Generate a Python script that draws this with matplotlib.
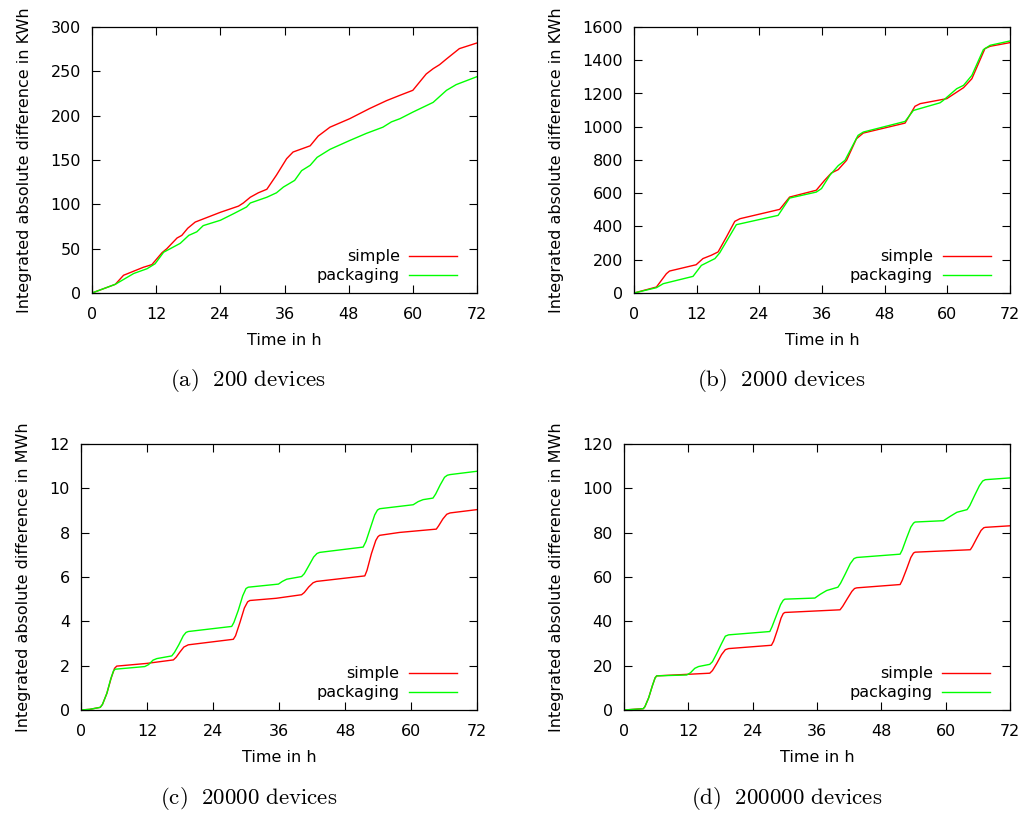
import matplotlib
matplotlib.use('Agg')
import matplotlib.pyplot as plt

plt.rcParams['font.family'] = ['DejaVu Sans']
plt.rcParams['mathtext.fontset'] = 'cm'

# (a) 200 devices, KWh
a_simple_t = [0, 4.36, 5.9, 9.6, 11.2, 13.1, 14, 15.9, 16.8, 17.9, 19.3, 24, 27.4, 28.3, 29.6,
              31.1, 32.7, 34.5, 36.4, 37.6, 40.8, 42.3, 44.5, 48.2, 51.9, 55.1, 57.6, 60,
              62.5, 63.8, 65, 66.3, 68.7, 72]
a_simple_v = [0, 9.8, 20, 29, 32, 45.5, 50, 62, 65, 73, 80, 91, 98, 101.5, 108,
              113, 117, 133, 151.5, 159, 166, 177, 187, 196.6, 208, 217, 223, 228.6,
              247, 253, 257.5, 264, 275.6, 282]
a_pack_t = [0, 4.36, 7.8, 10.3, 11.8, 13.4, 16.5, 18.1, 19.6, 20.8, 24, 26.5, 28.9, 29.6,
            32.7, 34.5, 35.8, 37.9, 39.2, 40.8, 42.1, 44.5, 48.2, 51.3, 54.4, 56, 57.6,
            60, 63.8, 66.3, 68.1, 72]
a_pack_v = [0, 9.8, 22, 27.4, 33, 46, 56, 65, 69, 76, 82, 89.5, 97, 101.5,
            108, 113, 119.5, 127, 138, 144, 153, 162, 172, 180, 187, 193, 196.6,
            204, 215, 228.6, 235, 244]

# (b) 2000 devices, KWh
b_simple_t = [0, 4.3, 6.2, 6.8, 11.9, 13.2, 14.8, 16.1, 17.7, 19.3, 20.3, 27.9, 29.8, 34.9,
              36.5, 37.8, 39.1, 40.7, 42.6, 43.9, 51.9, 53.8, 54.8, 59.9, 63.1, 64.7,
              67.2, 68.2, 72]
b_simple_v = [0, 36, 116, 132, 170, 207, 227, 247, 337, 431, 447, 503, 577, 618,
              678, 722, 742, 798, 928, 962, 1022, 1123, 1139, 1169, 1235, 1289,
              1470, 1484, 1506]
b_pack_t = [0, 4.3, 5.6, 11.3, 12.9, 15.5, 16.4, 19.6, 27.6, 29.8, 34.9, 35.9, 37.5, 39.1,
            40.4, 42.9, 43.9, 51.9, 53.5, 58.6, 59.2, 61.8, 63.1, 64.7, 66.9, 68.2, 72]
b_pack_v = [0, 32, 56, 100, 166, 207, 241, 411, 467, 571, 607, 628, 708, 766,
            798, 948, 968, 1032, 1098, 1144, 1158, 1229, 1249, 1309, 1464, 1490, 1516]

# (c) 20000 devices, MWh
c_simple_t = [0, 1.6, 3.5, 3.9, 4.7, 5.5, 6.1, 6.5, 11.9, 16.8, 17.3, 18.0, 18.7, 19.5,
              27.7, 28.1, 28.9, 29.7, 30.3, 30.7, 35.5, 40.1, 40.6, 41.4, 42.2, 42.8,
              51.6, 52.0, 52.8, 53.6, 54.0, 54.3, 57.9, 64.6, 65.0, 65.8, 66.5, 67.1, 72]
c_simple_v = [0, 0.03, 0.12, 0.25, 0.75, 1.45, 1.88, 1.98, 2.1, 2.26, 2.38, 2.62, 2.84, 2.94,
              3.19, 3.35, 3.95, 4.6, 4.88, 4.94, 5.04, 5.2, 5.3, 5.55, 5.74, 5.8,
              6.05, 6.3, 7.05, 7.65, 7.82, 7.88, 8.01, 8.16, 8.3, 8.62, 8.83, 8.89, 9.04]
c_pack_t = [0, 1.6, 3.5, 3.9, 4.7, 5.4, 5.9, 6.2, 11.6, 12.3, 13.1, 13.8, 16.5, 17.0, 17.8,
            18.6, 19.1, 19.5, 27.4, 27.8, 28.6, 29.4, 30.0, 30.4, 35.9, 36.6, 37.4, 40.1,
            40.6, 41.4, 42.3, 42.9, 43.4, 51.3, 51.8, 52.6, 53.4, 53.9, 54.3, 60.4, 61.3,
            62.2, 64.0, 64.5, 65.3, 66.1, 66.6, 67.1, 72]
c_pack_v = [0, 0.03, 0.12, 0.25, 0.75, 1.4, 1.76, 1.84, 1.96, 2.05, 2.25, 2.32, 2.44, 2.6, 2.95,
            3.35, 3.5, 3.54, 3.77, 3.95, 4.5, 5.15, 5.48, 5.54, 5.68, 5.8, 5.9, 6.02,
            6.15, 6.5, 6.9, 7.06, 7.11, 7.35, 7.6, 8.2, 8.8, 9.02, 9.08, 9.26, 9.4,
            9.49, 9.56, 9.75, 10.15, 10.5, 10.59, 10.62, 10.77]

# (d) 200000 devices, MWh
d_simple_t = [0, 3.6, 3.9, 4.6, 5.3, 5.8, 6.1, 16.0, 16.5, 17.3, 18.2, 18.9, 19.5,
              27.5, 27.9, 28.6, 29.3, 29.7, 30.0, 40.3, 40.8, 41.6, 42.5, 43.0, 43.4,
              51.5, 51.9, 52.7, 53.5, 54.0, 54.3, 64.6, 65.0, 65.8, 66.6, 67.1, 67.4, 72]
d_simple_v = [0, 0.6, 1.5, 5.5, 11, 14.5, 15.4, 16.6, 17.8, 21, 25, 27.2, 27.7,
              29.2, 31, 36, 41.5, 43.5, 44, 45.2, 46.8, 50, 53.5, 54.8, 55.1,
              56.6, 58.5, 63.5, 68.8, 70.8, 71.2, 72.3, 73.8, 77.5, 81, 82.2, 82.4, 83.1]
d_pack_t = [0, 3.6, 3.9, 4.6, 5.3, 5.8, 6.1, 11.7, 12.4, 13.2, 13.9, 16.0, 16.5, 17.3, 18.2,
            18.9, 19.5, 27.2, 27.6, 28.4, 29.2, 29.7, 30.0, 35.6, 36.6, 37.8, 39.9, 40.4,
            41.3, 42.2, 42.9, 43.4, 51.5, 51.9, 52.7, 53.5, 54.0, 54.3, 59.6, 60.8, 62.1,
            64.0, 64.5, 65.4, 66.3, 66.9, 67.4, 72]
d_pack_v = [0, 0.6, 1.5, 5.5, 11, 14.5, 15.4, 15.8, 16.8, 18.8, 19.6, 20.6, 21.8, 25.5, 30,
            33.3, 33.9, 35.4, 37.5, 42.5, 47.5, 49.5, 50, 50.5, 52.2, 53.9, 55.4, 57.2,
            61.5, 66, 68.3, 68.8, 70.3, 72.2, 77.5, 82.5, 84.3, 84.8, 85.4, 87.3, 89.2,
            90.4, 92.2, 96.8, 101.2, 103.3, 103.9, 104.7]

W, H = 1026, 813


def make_axes(fig, left, right, top, bottom):
    '''axes from pixel box'''
    return fig.add_axes([left / W, (H - bottom) / H, (right - left) / W, (bottom - top) / H])


def pot_panel(ax, st, sv, pt, pv, ymax, ystep, ylabel):
    '''one gnuplot style panel'''
    ax.plot(st, sv, color='#ff0000', lw=1.0, label='simple')
    ax.plot(pt, pv, color='#00ff00', lw=1.0, label='packaging')
    ax.set_xlim(0, 72)
    ax.set_ylim(0, ymax)
    ax.set_xticks(range(0, 73, 12))
    ax.set_yticks([i * ystep for i in range(int(round(ymax / ystep)) + 1)])
    ax.tick_params(direction='in', length=6, width=0.8, top=True, right=True,
                   labelsize=11.5, pad=8, colors='black')
    ax.tick_params(axis='x', pad=10)
    for s in ax.spines.values():
        s.set_linewidth(0.9)
    ax.set_xlabel('Time in h', fontsize=11.5, labelpad=8)
    ax.set_ylabel(ylabel, fontsize=11.5, labelpad=13)
    leg = ax.legend(loc='lower right', frameon=False, markerfirst=False, fontsize=11.5,
                    handlelength=3.0, handletextpad=0.6, labelspacing=0.25,
                    borderaxespad=0.3, bbox_to_anchor=(0.978, -0.005))
    for t in leg.get_texts():
        t.set_ha('right')


fig = plt.figure(figsize=(W / 100, H / 100), dpi=100)

ax_a = make_axes(fig, 92, 477, 27, 293)
pot_panel(ax_a, a_simple_t, a_simple_v, a_pack_t, a_pack_v, 300, 50,
          'Integrated absolute difference in KWh')
ax_b = make_axes(fig, 634, 1010, 27, 293)
pot_panel(ax_b, b_simple_t, b_simple_v, b_pack_t, b_pack_v, 1600, 200,
          'Integrated absolute difference in KWh')
ax_c = make_axes(fig, 81, 477, 444, 710)
pot_panel(ax_c, c_simple_t, c_simple_v, c_pack_t, c_pack_v, 12, 2,
          'Integrated absolute difference in MWh')
ax_d = make_axes(fig, 624, 1010, 444, 710)
pot_panel(ax_d, d_simple_t, d_simple_v, d_pack_t, d_pack_v, 120, 20,
          'Integrated absolute difference in MWh')

captions = [(248, 380, '(a)\\ \\ 200\\ devices'), (781, 380, '(b)\\ \\ 2000\\ devices'),
            (249, 798, '(c)\\ \\ 20000\\ devices'), (787, 798, '(d)\\ \\ 200000\\ devices')]
for cx, cy, txt in captions:
    fig.text(cx / W, (H - cy) / H, '$\\mathrm{' + txt + '}$', fontsize=16.5,
             ha='center', va='center')

fig.savefig('out.png', dpi=100)
